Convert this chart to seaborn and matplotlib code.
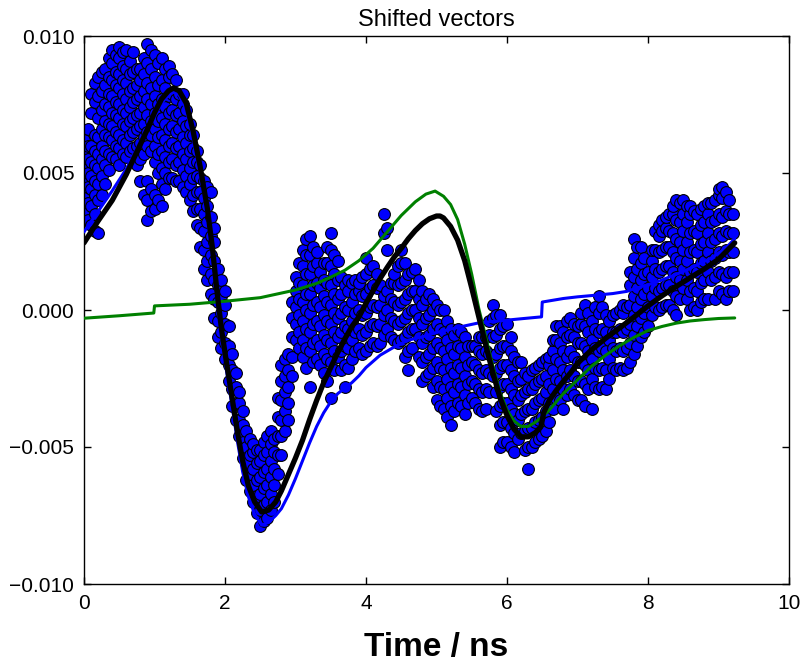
import matplotlib
matplotlib.use("Agg")
import matplotlib.pyplot as plt
import pandas as pd
import seaborn as sns

# Sampled vectors: time columns (ns) and the values seen at each time (units of 1e-4)
cloud_x = [
    0.00, 0.05, 0.10, 0.15, 0.20, 0.25, 0.30, 0.35, 0.40, 0.45,
    0.50, 0.55, 0.60, 0.65, 0.70, 0.75, 0.80, 0.85, 0.90, 0.95,
    1.00, 1.05, 1.10, 1.15, 1.20, 1.25, 1.30, 1.35, 1.40, 1.45,
    1.50, 1.55, 1.60, 1.65, 1.70, 1.75, 1.80, 1.85, 1.90, 1.95,
    2.00, 2.05, 2.10, 2.15, 2.20, 2.25, 2.30, 2.35, 2.40, 2.45,
    2.50, 2.55, 2.60, 2.65, 2.70, 2.75, 2.80, 2.85, 2.90, 2.95,
    3.00, 3.05, 3.10, 3.15, 3.20, 3.25, 3.30, 3.35, 3.40, 3.45,
    3.50, 3.55, 3.60, 3.65, 3.70, 3.75, 3.80, 3.85, 3.90, 3.95,
    4.00, 4.05, 4.10, 4.15, 4.20, 4.25, 4.30, 4.35, 4.40, 4.45,
    4.50, 4.55, 4.60, 4.65, 4.70, 4.75, 4.80, 4.85, 4.90, 4.95,
    5.00, 5.05, 5.10, 5.15, 5.20, 5.25, 5.30, 5.35, 5.40, 5.45,
    5.50, 5.55, 5.60, 5.65, 5.70, 5.75, 5.80, 5.85, 5.90, 5.95,
    6.00, 6.05, 6.10, 6.15, 6.20, 6.25, 6.30, 6.35, 6.40, 6.45,
    6.50, 6.55, 6.60, 6.65, 6.70, 6.75, 6.80, 6.85, 6.90, 6.95,
    7.00, 7.05, 7.10, 7.15, 7.20, 7.25, 7.30, 7.35, 7.40, 7.45,
    7.50, 7.55, 7.60, 7.65, 7.70, 7.75, 7.80, 7.85, 7.90, 7.95,
    8.00, 8.05, 8.10, 8.15, 8.20, 8.25, 8.30, 8.35, 8.40, 8.45,
    8.50, 8.55, 8.60, 8.65, 8.70, 8.75, 8.80, 8.85, 8.90, 8.95,
    9.00, 9.05, 9.10, 9.15, 9.20,
]
cloud_y = [
    [36, 41, 47, 52, 57, 62], [33, 39, 45, 50, 55, 60, 66], [31, 38, 44, 49, 54, 60, 72, 79],
    [29, 35, 42, 47, 53, 58, 64, 76, 83], [28, 40, 46, 52, 57, 63, 70, 78, 85],
    [42, 49, 55, 60, 66, 73, 80, 87], [46, 53, 58, 64, 69, 75, 82, 88],
    [51, 57, 63, 68, 74, 79, 85, 92], [56, 62, 67, 72, 78, 84, 90, 95],
    [55, 60, 65, 71, 76, 82, 87, 93],
    [53, 59, 64, 70, 75, 81, 86, 92, 96], [57, 62, 68, 73, 79, 84, 89, 94],
    [56, 61, 67, 72, 77, 83, 88, 95], [58, 64, 69, 74, 80, 86, 91], [59, 65, 70, 76, 81, 87, 94],
    [53, 60, 66, 71, 77, 82, 88], [47, 55, 61, 67, 72, 78, 84, 88], [42, 57, 63, 68, 74, 80, 86, 92],
    [33, 40, 47, 60, 65, 71, 77, 83, 90, 97], [36, 44, 58, 64, 69, 75, 81, 88, 95],
    [37, 42, 54, 60, 66, 72, 78, 85, 93], [40, 50, 57, 63, 69, 75, 82, 90],
    [38, 46, 52, 58, 64, 70, 77, 84, 92], [44, 50, 56, 62, 68, 74, 81, 88],
    [48, 54, 60, 66, 72, 78, 85, 89], [48, 55, 61, 67, 73, 79, 86], [47, 53, 59, 65, 71, 77, 84],
    [47, 54, 60, 66, 72, 79], [45, 51, 57, 63, 69, 75, 79], [43, 49, 55, 61, 67, 73],
    [40, 46, 52, 58, 64, 68], [36, 42, 48, 54, 59, 64], [31, 37, 43, 49, 54, 58],
    [23, 30, 37, 43, 48, 53], [15, 22, 29, 35, 41, 47], [11, 18, 25, 32, 38, 45],
    [6, 13, 20, 27, 34, 43], [-3, 4, 11, 18, 25, 30], [-10, -4, 3, 9, 15], [-14, -8, -1, 5, 11],
    [-18, -12, -5, 2, 7], [-26, -20, -13, -6], [-35, -29, -22, -16], [-40, -34, -28, -23],
    [-46, -40, -34, -30], [-54, -48, -42, -37], [-62, -56, -50, -44], [-66, -60, -53, -47],
    [-70, -64, -58, -52, -49], [-74, -68, -62, -56, -51],
    [-79, -73, -67, -61, -55, -51], [-77, -71, -65, -59, -53, -48], [-76, -70, -64, -58, -52, -46],
    [-73, -67, -61, -55, -49, -44], [-70, -64, -58, -52, -47], [-60, -53, -46, -39, -32],
    [-53, -46, -40, -33, -26, -20], [-44, -37, -30, -24, -18], [-40, -34, -28, -22, -16],
    [-24, -17, -10, -3, 3],
    [-11, -5, 1, 7, 12], [-14, -8, -2, 4, 10, 17], [-17, -11, -4, 3, 9, 16, 22],
    [-21, -14, -7, 0, 6, 13, 20, 26], [-28, -15, -8, -1, 6, 13, 20, 27],
    [-19, -12, -5, 2, 9, 16, 23], [-18, -11, -4, 3, 10, 17, 21], [-20, -13, -6, 1, 8, 14],
    [-23, -16, -9, -2, 5, 11, 17], [-26, -18, -11, -4, 3, 10, 17, 23],
    [-32, -19, -12, -5, 2, 9, 16, 22, 28], [-22, -15, -8, -1, 6, 13, 20], [-17, -10, -3, 4, 11, 18],
    [-22, -15, -8, -1, 6, 12], [-28, -20, -13, -6, 1, 9], [-21, -14, -7, 0, 7, 11],
    [-18, -11, -4, 3, 10], [-15, -8, -1, 6, 11], [-14, -7, 0, 7, 10], [-16, -9, -2, 5, 12],
    [-15, -8, -1, 6, 13, 19], [-13, -6, 1, 8, 15], [-12, -5, 2, 9, 16], [-13, -6, 1, 8, 13],
    [-12, -5, 2, 9], [-9, -2, 5, 28, 35], [-7, 0, 7, 22, 30], [-10, -3, 4, 10],
    [-11, -4, 3, 10, 13], [-12, -5, 2, 9, 16],
    [-11, -4, 3, 10, 17, 22], [-17, -10, -3, 4, 11, 17], [-22, -15, -8, -1, 6, 13],
    [-14, -7, 0, 7, 14], [-7, 0, 7, 15], [-17, -10, -3, 4, 11], [-26, -19, -12, -5, 2, 7],
    [-24, -17, -10, -3, 4], [-23, -16, -9, -2, 6], [-28, -21, -14, -7, 0, 4],
    [-33, -26, -19, -12, -5, 2], [-35, -28, -21, -14, -7, 0], [-36, -29, -22, -15, -8, 0],
    [-39, -32, -25, -18, -11, -4], [-42, -35, -28, -21, -14, -7], [-37, -30, -23, -16, -9],
    [-34, -27, -20, -13, -7], [-35, -28, -21, -14, -8], [-38, -31, -24, -17, -10],
    [-34, -27, -20, -13],
    [-32, -26, -19, -13], [-34, -27, -20, -13], [-36, -29, -22, -15, -10],
    [-37, -30, -23, -16, -10], [-36, -29, -22, -15, -10], [-30, -23, -16, -9, -4],
    [-24, -17, -10, -3, 2], [-37, -30, -23, -16, -9, -2], [-50, -42, -35, -28, -21, -14, -7, -2],
    [-48, -41, -34, -27, -20, -13, -6],
    [-48, -41, -34, -27, -20, -13, -5], [-50, -43, -36, -29, -22, -15, -10],
    [-52, -45, -38, -31, -24, -17], [-47, -40, -33, -26, -19], [-45, -38, -31, -25, -19],
    [-51, -44, -37, -30, -23], [-58, -50, -43, -36, -29, -24], [-50, -43, -36, -29, -22],
    [-48, -41, -34, -27, -21], [-47, -40, -33, -26, -20],
    [-46, -39, -32, -25, -19], [-44, -37, -30, -24, -18], [-41, -34, -27, -20, -17],
    [-36, -29, -22, -15, -11], [-32, -25, -18, -11, -6], [-33, -26, -19, -12, -6],
    [-36, -29, -22, -15, -8], [-31, -24, -17, -10, -4], [-29, -22, -15, -9, -3],
    [-31, -24, -17, -10, -5],
    [-33, -26, -19, -12, -6], [-33, -26, -19, -12, -5, -1], [-35, -27, -20, -13, -6, 2],
    [-29, -22, -15, -8, -1], [-36, -25, -18, -11, -4], [-28, -21, -14, -7, 1],
    [-29, -22, -15, -8, -1, 5], [-28, -21, -14, -7, 1], [-29, -22, -15, -8, -2],
    [-25, -18, -11, -4],
    [-21, -14, -8, -2], [-22, -15, -8, -1], [-21, -14, -7, 0], [-22, -15, -8, -1, 2],
    [-21, -14, -7, 1], [-19, -12, -5, 2, 9, 14], [-16, -9, -2, 5, 12, 19, 26],
    [-13, -6, 1, 8, 15, 23], [-10, -3, 4, 11, 17, 23], [-8, -1, 6, 13, 19],
    [-6, 1, 8, 14], [-2, 5, 12, 18, 22], [1, 8, 15, 22, 29], [0, 7, 14, 21, 27, 31],
    [1, 8, 15, 22, 29, 33], [2, 9, 16, 23, 30, 34], [2, 9, 16, 23, 29, 35],
    [0, 7, 14, 21, 28, 35, 38], [-2, 5, 12, 19, 26, 33, 40], [4, 11, 18, 25, 32, 39],
    [8, 15, 22, 29, 35, 40], [4, 11, 18, 25, 32, 38], [0, 7, 14, 21, 28, 35, 38],
    [1, 8, 15, 22, 29, 36], [0, 7, 14, 21, 28, 35], [3, 10, 17, 24, 31, 37],
    [4, 11, 18, 25, 32, 38], [4, 14, 21, 28, 35, 39], [11, 18, 25, 32, 39],
    [4, 12, 19, 26, 33, 40],
    [7, 14, 21, 28, 35, 42, 44], [6, 13, 20, 27, 34, 41, 45], [4, 12, 22, 29, 36, 43],
    [7, 14, 21, 28, 35, 40], [7, 14, 21, 28, 35],
]

# Fitted total signal (units of 1e-4)
fit_t = [0.0, 0.2, 0.4, 0.6, 0.8, 0.9, 1.0, 1.1, 1.2, 1.27, 1.35, 1.45, 1.55, 1.65, 1.75,
         1.82, 1.89, 1.95, 2.02, 2.1, 2.18, 2.25, 2.33, 2.42, 2.52, 2.62, 2.72, 2.8, 2.9,
         3.0, 3.1, 3.2, 3.3, 3.4, 3.5, 3.6, 3.7, 3.8, 3.9, 4.0, 4.1, 4.2, 4.3, 4.4, 4.5,
         4.6, 4.7, 4.8, 4.9, 5.0, 5.05, 5.1, 5.2, 5.3, 5.4, 5.5, 5.6, 5.7, 5.8, 5.9, 6.0,
         6.1, 6.2, 6.3, 6.4, 6.48, 6.52, 6.6, 6.7, 6.8, 6.9, 7.0, 7.2, 7.4, 7.6, 7.8, 8.0,
         8.2, 8.4, 8.6, 8.8, 9.0, 9.23]
fit_v = [24.5, 32.5, 40, 49.5, 60.5, 66, 72, 77, 80, 81, 80, 75.5, 65, 52, 37,
         23, 6, -7, -19, -32, -45, -55, -64, -70, -73.7, -73, -70, -66, -60,
         -54, -47.5, -40, -33, -26.5, -21, -15.5, -10.5, -6, -2.5, 2.5, 7, 11.5, 15.5, 19.3, 22.5,
         26, 29, 31.5, 33.3, 34.3, 34.3, 33.6, 30.5, 25.5, 18, 8, -2.5, -13, -23, -32, -38.5,
         -43.5, -46.3, -46.3, -44.8, -42.7, -37.5, -33, -29.3, -26, -23, -19.5, -14.5, -10.3, -6.5, -2.6, 1.5,
         5.2, 8.6, 11.8, 15, 18.5, 24.5]

# First shifted component (units of 1e-4)
comp_a_t = [0.0, 0.2, 0.4, 0.6, 0.8, 1.0, 1.1, 1.2, 1.27, 1.35, 1.45, 1.55, 1.65, 1.75,
            1.82, 1.89, 1.95, 2.02, 2.1, 2.18, 2.25, 2.33, 2.42, 2.52, 2.62, 2.72, 2.8, 2.9,
            3.0, 3.1, 3.2, 3.3, 3.4, 3.5, 3.6, 3.7, 3.8, 3.9, 4.0, 4.2, 4.4, 4.6, 4.8, 5.0,
            5.2, 5.4, 5.6, 5.8, 6.0, 6.2, 6.49, 6.5, 6.8, 7.0, 7.3, 7.5, 7.7, 7.9, 8.1, 8.3,
            8.5, 8.7, 8.9, 9.1, 9.23]
comp_a_v = [28.5, 36, 43.5, 51.5, 61.5, 70.5, 75.5, 78.5, 79.5, 78.5, 73, 62.5, 49.5, 34.5,
            20.5, 3.5, -10, -22, -35, -48.5, -59, -68, -74.5, -78.5, -77.5, -75, -72.5, -67.5,
            -61.5, -55, -48.5, -42.5, -37.5, -33.5, -30.5, -28.5, -26.5, -24, -21, -16.5, -13.5, -11, -9.8, -8.2,
            -7, -5.8, -4.7, -4.2, -3.7, -3.2, -2.5, 2.9, 4.2, 4.8, 5.5, 6, 6.8, 8.5, 10, 12,
            14, 16.5, 19, 22.5, 26]

# Second shifted component (units of 1e-4)
comp_b_t = [0.0, 0.5, 0.99, 1.0, 1.5, 2.0, 2.5, 3.0, 3.3, 3.5, 3.7, 3.9, 4.1, 4.3, 4.5,
            4.7, 4.85, 4.98, 5.1, 5.2, 5.3, 5.4, 5.5, 5.6, 5.7, 5.8, 5.9, 6.0, 6.1, 6.2,
            6.3, 6.4, 6.5, 6.6, 6.8, 7.0, 7.2, 7.4, 7.6, 7.8, 8.0, 8.2, 8.4, 8.6, 8.8, 9.0, 9.23]
comp_b_v = [-3, -2.1, -1.1, 1.5, 2.1, 3.2, 4.5, 7.3, 9.7, 12, 14.5, 18, 22.5, 28.5, 34.5,
            39.5, 42.3, 43.4, 41.5, 38.5, 33, 24, 13, 0.5, -10, -20.5, -30, -36.5, -40.5, -42.5,
            -42.5, -41, -39, -36.5, -30.5, -25.5, -20.5, -16.5, -13, -10, -7.5, -6, -4.8, -4, -3.5, -3.1, -2.9]

title_text = "Shifted vectors"
xlabel_text = "Time / ns"
x_ticks = [0, 2, 4, 6, 8, 10]
y_ticks = [-0.010, -0.005, 0.000, 0.005, 0.010]

SCALE = 1e-4

cloud = pd.DataFrame({
    "t": [x for x, col in zip(cloud_x, cloud_y) for _ in col],
    "v": [v * SCALE for col in cloud_y for v in col],
})
fit = pd.DataFrame({"t": fit_t, "v": [v * SCALE for v in fit_v]})
comp_a = pd.DataFrame({"t": comp_a_t, "v": [v * SCALE for v in comp_a_v]})
comp_b = pd.DataFrame({"t": comp_b_t, "v": [v * SCALE for v in comp_b_v]})

sns.set_style("ticks")
plt.rcParams["font.family"] = ["Liberation Sans", "DejaVu Sans"]
plt.rcParams.update({
    "xtick.direction": "in", "ytick.direction": "in",
    "xtick.top": True, "ytick.right": True,
    "xtick.major.size": 5, "ytick.major.size": 5,
    "xtick.major.width": 1.0, "ytick.major.width": 1.0,
    "xtick.color": "black", "ytick.color": "black",
    "xtick.labelcolor": "black", "ytick.labelcolor": "black",
    "text.color": "black", "axes.labelcolor": "black",
    "axes.edgecolor": "black", "axes.linewidth": 1.0,
})

fig = plt.figure(figsize=(8.08, 6.71), dpi=100)
ax = fig.add_axes([84 / 808, 1 - 584 / 671, 705 / 808, 548 / 671])

sns.scatterplot(data=cloud, x="t", y="v", ax=ax, color="#0000ff", edgecolor="black",
                s=72, linewidth=0.8, zorder=2)
sns.lineplot(data=comp_a, x="t", y="v", ax=ax, color="#0000ff", linewidth=2.2, zorder=3)
sns.lineplot(data=comp_b, x="t", y="v", ax=ax, color="#008000", linewidth=2.2, zorder=3)
sns.lineplot(data=fit, x="t", y="v", ax=ax, color="black", linewidth=3.8, zorder=4)

ax.set_xlim(0, 10)
ax.set_ylim(-0.010, 0.010)
ax.set_xticks(x_ticks)
ax.set_yticks(y_ticks)
ax.set_xticklabels([str(t) for t in x_ticks])
ax.set_yticklabels([f"{t:.3f}".replace("-", "\u2212") for t in y_ticks])
ax.tick_params(labelsize=15, pad=7, colors="black")
ax.set_ylabel("")
ax.set_xlabel(xlabel_text, fontsize=24, fontweight="bold", labelpad=14, color="black")
ax.set_title(title_text, fontsize=17, pad=7, color="black")

fig.savefig("out.png", dpi=100)
